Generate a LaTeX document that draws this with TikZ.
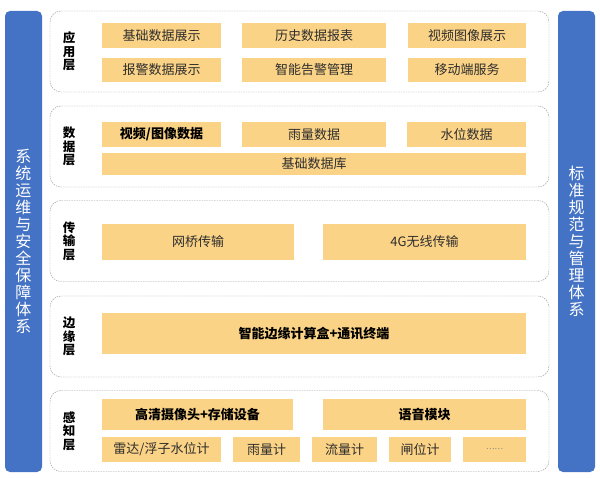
\documentclass[tikz,border=0pt]{standalone}
\usepackage{fontspec}
\setmainfont{Noto Sans CJK SC}
\usepackage{tikz}
\usetikzlibrary{positioning}
\definecolor{barblue}{RGB}{68,114,196}
\definecolor{boxorange}{RGB}{251,211,134}
\definecolor{boxtext}{RGB}{45,45,45}
\definecolor{layerline}{RGB}{150,150,150}

\begin{document}
\begin{tikzpicture}[x=1pt,y=-1pt]
    \tikzset{sidebar/.style = {shape=rectangle,fill=barblue,rounded corners=5pt,minimum width=37pt,minimum height=461pt,text=white,align=center,font=\fontsize{16}{17}\selectfont}}
    \tikzset{layer/.style = {shape=rectangle,draw=layerline,dash pattern=on 1.5pt off 1pt,rounded corners=11pt,minimum width=499pt,minimum height=81pt}}
    \tikzset{layername/.style = {align=center,text=black,font=\fontsize{12.5}{13.5}\selectfont\bfseries}}
    \tikzset{unit/.style = {shape=rectangle,fill=boxorange,inner sep=0pt,text=boxtext,font=\fontsize{13}{15}\selectfont,minimum height=25pt}}
    \tikzset{keyunit/.style = {unit,text=black,font=\fontsize{13}{15}\selectfont\bfseries}}
    \useasboundingbox (0,0) rectangle (600,478);
    % side bars
    \node[sidebar] (ops) at (23.5,241.5) {系\\统\\运\\维\\与\\安\\全\\保\\障\\体\\系};
    \node[sidebar] (std) at (576.5,241.5) {标\\准\\规\\范\\与\\管\\理\\体\\系};
    % layers
    \node[layer] (app) at (299.5,51.5) {};
    \node[layer] (data) at (299.5,146.5) {};
    \node[layer] (trans) at (299.5,241) {};
    \node[layer] (edge) at (299.5,336.5) {};
    \node[layer] (sense) at (299.5,431) {};
    \node[layername] (appname) at (69,51.5) {应\\用\\层};
    \node[layername] (dataname) at (69,146.5) {数\\据\\层};
    \node[layername] (transname) at (69,241) {传\\输\\层};
    \node[layername] (edgename) at (69,336.5) {边\\缘\\层};
    \node[layername] (sensename) at (69,431) {感\\知\\层};
    % application layer
    \node[unit,minimum width=119pt] (basicshow) at (161.5,35.5) {基础数据展示};
    \node[unit,minimum width=144pt] (history) at (314,35.5) {历史数据报表};
    \node[unit,minimum width=118pt] (videoshow) at (467,35.5) {视频图像展示};
    \node[unit,minimum width=119pt,minimum height=24pt] (alarmshow) at (161.5,70) {报警数据展示};
    \node[unit,minimum width=144pt,minimum height=24pt] (alarmmgr) at (314,70) {智能告警管理};
    \node[unit,minimum width=118pt,minimum height=24pt] (mobile) at (467,70) {移动端服务};
    % data layer
    \node[keyunit,minimum width=119pt] (videodata) at (161.5,134.5) {视频/图像数据};
    \node[unit,minimum width=144pt] (raindata) at (314,134.5) {雨量数据};
    \node[unit,minimum width=119pt] (leveldata) at (466.5,134.5) {水位数据};
    \node[unit,minimum width=424pt,minimum height=22pt] (basedb) at (314,164) {基础数据库};
    % transmission layer
    \node[unit,minimum width=192pt,minimum height=36pt] (bridge) at (198,242) {网桥传输};
    \node[unit,minimum width=203pt,minimum height=36pt] (wireless) at (424.5,242) {4G无线传输};
    % edge layer
    \node[keyunit,minimum width=424pt,minimum height=41pt] (edgebox) at (314,333.5) {智能边缘计算盒+通讯终端};
    % sensing layer
    \node[keyunit,minimum width=191pt,minimum height=31pt] (camera) at (197.5,414.5) {高清摄像头+存储设备};
    \node[keyunit,minimum width=203pt,minimum height=31pt] (voice) at (424.5,414.5) {语音模块};
    \node[unit,minimum width=119pt] (radar) at (161.5,449.5) {雷达/浮子水位计};
    \node[unit,minimum width=67pt] (raingauge) at (266.5,449.5) {雨量计};
    \node[unit,minimum width=65pt] (flow) at (344.5,449.5) {流量计};
    \node[unit,minimum width=62pt] (gate) at (420,449.5) {闸位计};
    \node[unit,minimum width=63pt,font=\fontsize{8}{10}\selectfont,text=gray] (more) at (494.5,449.5) {……};
\end{tikzpicture}
\end{document}
